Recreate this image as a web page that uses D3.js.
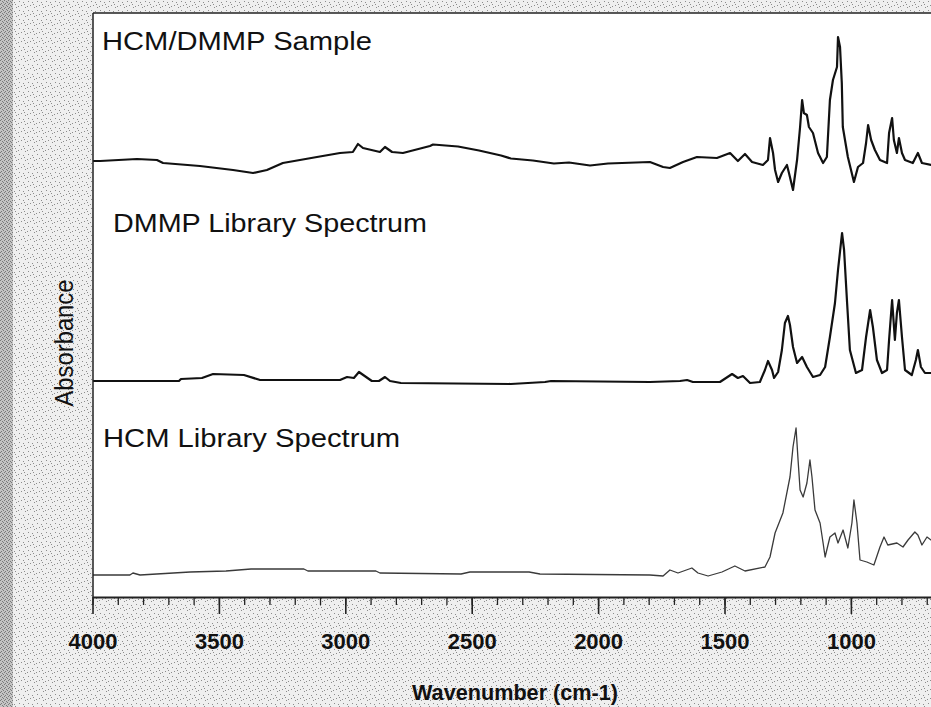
<!DOCTYPE html>
<html><head><meta charset="utf-8">
<script src="https://cdn.jsdelivr.net/npm/d3@7"></script>
<style>html,body{margin:0;padding:0;background:#fff;}svg{display:block;}</style>
</head><body>
<svg id="chart" width="931" height="707"></svg>
<script>
// ---- data (wavenumber cm-1, relative absorbance) ----
const sampleSpectrum = [[4100,0],[3998,0],[3970,0],[3824,0.02],[3745,0.01],[3721,-0.02],[3575,-0.05],[3444,-0.09],[3365,-0.12],[3310,-0.09],[3247,-0.02],[3112,0.04],[3021,0.08],[2970,0.09],[2950,0.17],[2930,0.13],[2863,0.09],[2843,0.14],[2815,0.09],[2772,0.08],[2665,0.15],[2653,0.165],[2554,0.145],[2471,0.105],[2384,0.055],[2345,0.025],[2258,0.005],[2175,-0.025],[2115,-0.015],[2032,-0.045],[1961,-0.025],[1795,-0.01],[1743,-0.06],[1716,-0.07],[1664,-0.01],[1609,0.04],[1530,0.03],[1478,0.08],[1447,0],[1419,0.07],[1391,-0.01],[1348,-0.04],[1328,0.01],[1320,0.23],[1308,0.08],[1300,-0.09],[1288,-0.21],[1273,-0.12],[1253,-0.04],[1245,-0.12],[1229,-0.29],[1213,0.01],[1201,0.34],[1193,0.61],[1186,0.48],[1174,0.46],[1166,0.34],[1150,0.28],[1130,0.08],[1110,-0.02],[1095,0.04],[1083,0.61],[1071,0.81],[1055,0.94],[1051,1.24],[1043,1.14],[1036,0.78],[1032,0.34],[1012,0.04],[988,-0.21],[972,-0.06],[952,-0.02],[940,0.18],[932,0.36],[920,0.21],[905,0.11],[885,0.01],[857,-0.02],[849,0.28],[837,0.43],[830,0.21],[818,0.08],[810,0.23],[798,0.08],[786,0.01],[755,-0.02],[735,0.08],[719,-0.02],[683,-0.04],[650,-0.04]];

const dmmpSpectrum = [[4100,0],[3998,0],[3658,0],[3650,0.02],[3567,0.03],[3523,0.07],[3401,0.06],[3337,0.01],[3021,0.01],[2993,0.04],[2966,0.03],[2946,0.09],[2895,0],[2867,0],[2843,0.04],[2823,0],[2780,-0.02],[2345,-0.03],[2210,-0.01],[2186,0],[1795,-0.01],[1676,0],[1648,0.01],[1625,-0.01],[1518,-0.01],[1470,0.07],[1447,0.03],[1427,0.05],[1399,-0.02],[1360,-0.01],[1340,0.11],[1328,0.20],[1312,0.11],[1304,0.03],[1288,0.09],[1273,0.31],[1261,0.58],[1249,0.65],[1241,0.56],[1229,0.34],[1213,0.18],[1193,0.24],[1174,0.14],[1150,0.04],[1122,0.06],[1102,0.14],[1083,0.44],[1063,0.78],[1051,1.11],[1035,1.48],[1027,1.31],[1015,0.78],[1004,0.31],[980,0.08],[956,0.11],[940,0.44],[924,0.71],[913,0.54],[897,0.21],[877,0.08],[857,0.11],[849,0.41],[837,0.81],[826,0.41],[818,0.68],[810,0.81],[798,0.44],[786,0.11],[759,0.06],[743,0.21],[735,0.31],[723,0.14],[707,0.08],[683,0.08],[650,0.08]];

const hcmSpectrum = [[4100,0],[3998,0],[3852,0],[3840,0.02],[3812,0],[3614,0.03],[3472,0.04],[3373,0.06],[3164,0.06],[3148,0.04],[2879,0.04],[2863,0.02],[2542,0.01],[2507,0.03],[2273,0.03],[2230,0.01],[1795,0],[1743,-0.01],[1716,0.05],[1684,0.02],[1629,0.07],[1605,0.02],[1565,-0.01],[1510,0.03],[1459,0.09],[1419,0.04],[1340,0.08],[1320,0.18],[1300,0.42],[1269,0.62],[1241,0.98],[1229,1.28],[1217,1.47],[1209,1.15],[1201,0.85],[1189,0.78],[1174,0.92],[1162,1.15],[1154,0.98],[1142,0.65],[1122,0.52],[1110,0.32],[1102,0.18],[1083,0.38],[1063,0.42],[1051,0.32],[1031,0.45],[1012,0.27],[996,0.52],[988,0.75],[976,0.52],[964,0.15],[937,0.13],[909,0.10],[885,0.28],[869,0.38],[854,0.30],[818,0.32],[794,0.28],[774,0.35],[747,0.43],[735,0.40],[719,0.30],[699,0.38],[683,0.35],[650,0.35]];

const spectrumNames = ["HCM/DMMP Sample", "DMMP Library Spectrum", "HCM Library Spectrum"];
const majorTicks = [4000, 3500, 3000, 2500, 2000, 1500, 1000];
const minorTicks = d3.range(4000, 599, -100);
const xTitle = "Wavenumber (cm-1)";
const yTitle = "Absorbance";

// ---- layout ----
const W = 931, H = 707;
const plot = {left: 93, top: 13, right: 960, bottom: 597};
const svg = d3.select("#chart");
const defs = svg.append("defs");

// scanned-paper speckle background
const pat = defs.append("pattern").attr("id","speck").attr("width",9).attr("height",9).attr("patternUnits","userSpaceOnUse");
pat.append("rect").attr("width",9).attr("height",9).attr("fill","#efefef");
[[1,1],[5,2],[3,5],[7,7],[0,6],[6,4]].forEach(p=>pat.append("rect").attr("x",p[0]).attr("y",p[1]).attr("width",1).attr("height",1).attr("fill","#8c8c8c"));
const pat2 = defs.append("pattern").attr("id","speck2").attr("width",4).attr("height",4).attr("patternUnits","userSpaceOnUse");
pat2.append("rect").attr("width",4).attr("height",4).attr("fill","#c4c4c4");
[[0,0],[2,1],[1,3],[3,2]].forEach(p=>pat2.append("rect").attr("x",p[0]).attr("y",p[1]).attr("width",1).attr("height",1).attr("fill","#7a7a7a"));

svg.append("rect").attr("width",W).attr("height",H).attr("fill","url(#speck)");
svg.append("rect").attr("width",13).attr("height",H).attr("fill","url(#speck2)");
svg.append("rect").attr("x",plot.left).attr("y",plot.top).attr("width",plot.right-plot.left).attr("height",plot.bottom-plot.top).attr("fill","#fff");

defs.append("clipPath").attr("id","clip").append("rect")
  .attr("x",plot.left).attr("y",plot.top).attr("width",W-plot.left).attr("height",plot.bottom-plot.top);

const x = d3.scaleLinear().domain([4000, 500]).range([92.5, 92.5 + 3500*0.2528]);

const panels = [
  {data: sampleSpectrum, base: 161, color:"#111", width:2.2, label:{x:102, y:50, len:270}},
  {data: dmmpSpectrum,   base: 381, color:"#111", width:2.2, label:{x:113, y:232, len:314}},
  {data: hcmSpectrum,    base: 575, color:"#3a3a3a", width:1.3, label:{x:103, y:447, len:297}}
];

const g = svg.append("g").attr("clip-path","url(#clip)");
panels.forEach((p,i)=>{
  const y = d3.scaleLinear().domain([0,1]).range([p.base, p.base-100]);
  const line = d3.line().x(d=>x(d[0])).y(d=>y(d[1]));
  g.append("path").datum(p.data).attr("d",line)
    .attr("fill","none").attr("stroke",p.color).attr("stroke-width",p.width)
    .attr("stroke-linejoin","round");
  svg.append("text").attr("x",p.label.x).attr("y",p.label.y)
    .attr("font-family","Liberation Sans, Arial, sans-serif").attr("font-size",25)
    .attr("textLength",p.label.len).attr("lengthAdjust","spacingAndGlyphs")
    .attr("fill","#111").text(spectrumNames[i]);
});

// frame lines
svg.append("line").attr("x1",plot.left).attr("x2",W).attr("y1",plot.top).attr("y2",plot.top).attr("stroke","#222").attr("stroke-width",1.5);
svg.append("line").attr("x1",plot.left).attr("x2",plot.left).attr("y1",plot.top).attr("y2",plot.bottom).attr("stroke","#222").attr("stroke-width",1.5);

// minor ticks
const minorAxis = d3.axisBottom(x).tickValues(minorTicks).tickSize(8).tickFormat("");
const gm = svg.append("g").attr("transform",`translate(0,${plot.bottom})`).call(minorAxis);
gm.select(".domain").remove();
gm.selectAll("line").attr("stroke","#222").attr("stroke-width",1.3);

// major axis
const majorAxis = d3.axisBottom(x).tickValues(majorTicks).tickSize(17).tickPadding(19).tickSizeOuter(0).tickFormat(d3.format("d"));
const ga = svg.append("g").attr("transform",`translate(0,${plot.bottom})`).call(majorAxis);
ga.select(".domain").attr("stroke","#222").attr("stroke-width",2.2);
ga.selectAll("line").attr("stroke","#222").attr("stroke-width",1.6);
ga.selectAll("text").attr("font-family","Liberation Sans, Arial, sans-serif").attr("font-size",22)
  .attr("font-weight","bold").attr("fill","#111");

// axis titles
svg.append("text").attr("x",515).attr("y",700).attr("text-anchor","middle")
  .attr("font-family","Liberation Sans, Arial, sans-serif").attr("font-size",22).attr("font-weight","bold")
  .attr("textLength",206).attr("lengthAdjust","spacingAndGlyphs").attr("fill","#111").text(xTitle);
svg.append("text").attr("transform","translate(73,343) rotate(-90)").attr("text-anchor","middle")
  .attr("font-family","Liberation Sans, Arial, sans-serif").attr("font-size",25)
  .attr("textLength",127).attr("lengthAdjust","spacingAndGlyphs").attr("fill","#111").text(yTitle);
</script>
</body></html>
